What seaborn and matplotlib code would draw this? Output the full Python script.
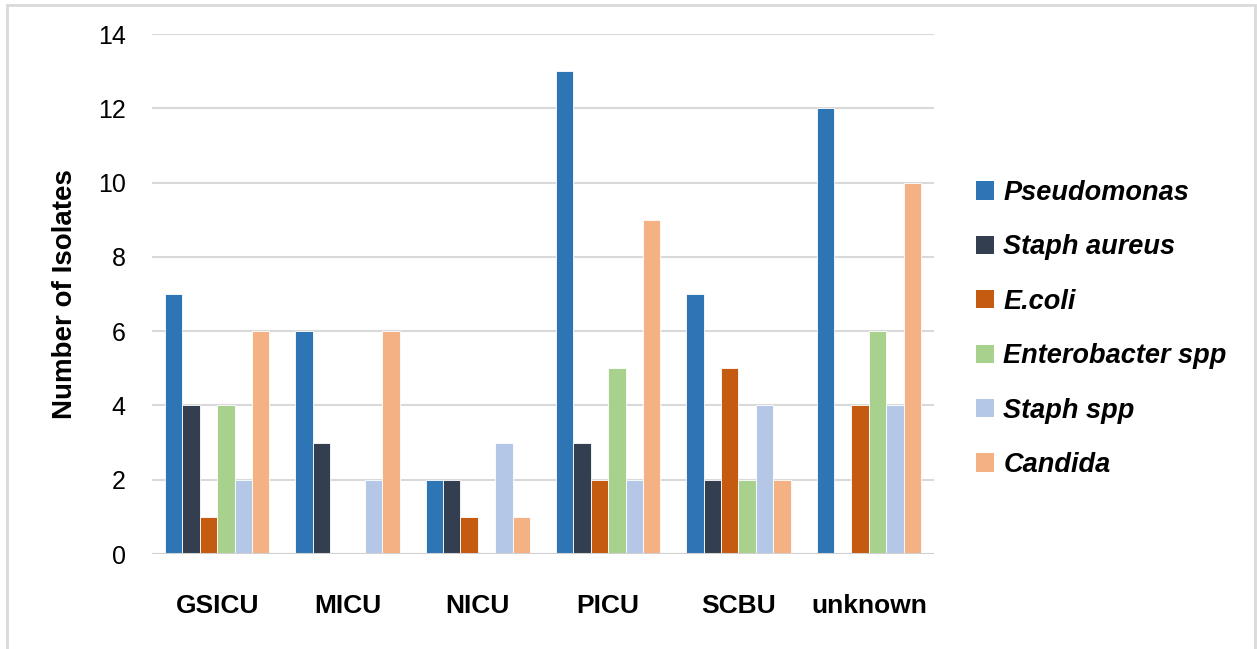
import matplotlib
matplotlib.use("Agg")
import matplotlib.pyplot as plt
import seaborn as sns
import pandas as pd
from matplotlib.patches import Rectangle, Patch

# data
units = ["GSICU", "MICU", "NICU", "PICU", "SCBU", "unknown"]
organisms = ["Pseudomonas", "Staph aureus", "E.coli", "Enterobacter spp", "Staph spp", "Candida"]
pseudomonas = [7, 6, 2, 13, 7, 12]
staph_aureus = [4, 3, 2, 3, 2, 0]
e_coli = [1, 0, 1, 2, 5, 4]
enterobacter = [4, 0, 0, 5, 2, 6]
staph_spp = [2, 2, 3, 2, 4, 4]
candida = [6, 6, 1, 9, 2, 10]
colors = ["#2E75B6", "#333F50", "#C55A11", "#A9D18E", "#B4C7E7", "#F4B183"]

series = [pseudomonas, staph_aureus, e_coli, enterobacter, staph_spp, candida]
rows = []
for org, vals in zip(organisms, series):
    for u, v in zip(units, vals):
        rows.append({"unit": u, "organism": org, "count": v})
df = pd.DataFrame(rows)

sns.set_style("white")
plt.rcParams['font.family'] = ['Liberation Sans Narrow', 'Liberation Sans', 'DejaVu Sans']
plt.rcParams['text.color'] = 'black'
plt.rcParams['axes.labelcolor'] = 'black'
plt.rcParams['xtick.color'] = 'black'
plt.rcParams['ytick.color'] = 'black'

fig = plt.figure(figsize=(12.57, 6.49), dpi=100)
ax = fig.add_axes([152/1257, 1 - 554/649, (934-152)/1257, (554-34)/649])

sns.barplot(data=df, x="unit", y="count", hue="organism", order=units,
            hue_order=organisms, palette=colors, saturation=1, width=0.8, ax=ax,
            edgecolor="white", linewidth=0.6, legend=False, errorbar=None)

ax.set_ylim(0, 14)
ax.set_yticks(range(0, 15, 2))
ax.set_xlim(-0.5, 5.5)
ax.grid(axis="y", color="#D9D9D9", linewidth=1.5, zorder=0)
ax.set_axisbelow(True)
ax.axhline(0, color="#D0D0D0", linewidth=2.2, zorder=5)
for s in ax.spines.values():
    s.set_visible(False)
ax.tick_params(axis="both", length=0)
ax.tick_params(axis="y", pad=19, labelsize=18)
ax.tick_params(axis="x", pad=29)
for t in ax.get_xticklabels():
    t.set_fontsize(19)
    t.set_fontweight("bold")
ax.set_xlabel("")
ax.set_ylabel("Number of Isolates", fontsize=20, fontweight="bold", labelpad=14)

handles = [Patch(facecolor=c, edgecolor="none") for c in colors]
fig.legend(handles, organisms, loc="center left", bbox_to_anchor=(976/1257, 1 - 329/649),
           bbox_transform=fig.transFigure, frameon=False, borderpad=0, borderaxespad=0,
           handlelength=0.67, handleheight=0.67, handletextpad=0.34, labelspacing=1.05,
           prop={"family": "Liberation Sans", "weight": "bold", "style": "italic", "size": 19.5})

# outer chart frame
fig.patches.append(Rectangle((7/1257, -0.05), (1255-7)/1257, 1.05 - 5/649, transform=fig.transFigure,
                             fill=False, edgecolor="#D9D9D9", linewidth=2, zorder=-1))

fig.savefig("out.png", dpi=100)
